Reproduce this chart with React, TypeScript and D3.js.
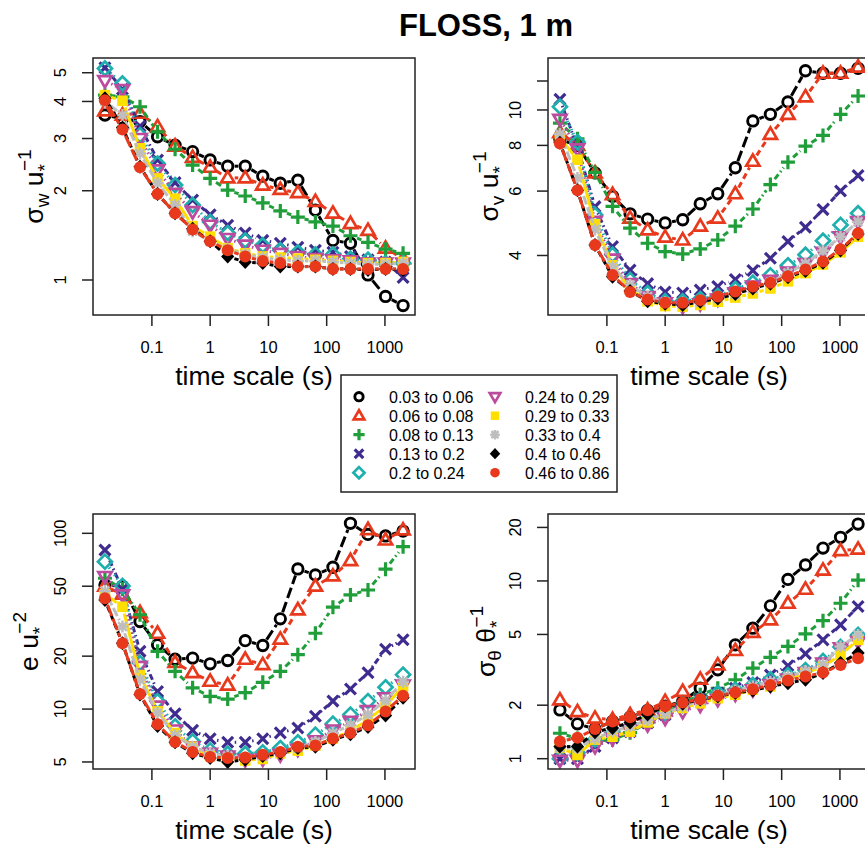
import React from 'react';
import * as d3 from 'd3';

// averaging time scales (s)
const timeScale = [0.015625, 0.03125, 0.0625, 0.125, 0.25, 0.5, 1, 2, 4, 8, 16, 32, 64, 128, 256, 512, 1024, 2048];
const xTicks = [0.1, 1, 10, 100, 1000];

const classes = [
  '0.03 to 0.06', '0.06 to 0.08', '0.08 to 0.13', '0.13 to 0.2', '0.2 to 0.24',
  '0.24 to 0.29', '0.29 to 0.33', '0.33 to 0.4', '0.4 to 0.46', '0.46 to 0.86',
];

const sigmaW = [
  [3.6, 3.5, 3.42, 3.04, 2.85, 2.71, 2.54, 2.42, 2.42, 2.24, 2.12, 2.17, 1.72, 1.36, 1.33, 1.04, 0.88, 0.82],
  [3.72, 3.6, 3.65, 3.29, 2.83, 2.59, 2.4, 2.21, 2.21, 2.09, 2.02, 1.97, 1.84, 1.68, 1.55, 1.47, 1.28, 1.18],
  [4.2, 4.15, 3.84, 3.16, 2.76, 2.44, 2.2, 2.01, 1.92, 1.82, 1.71, 1.63, 1.57, 1.52, 1.41, 1.34, 1.27, 1.23],
  [5.2, 4.4, 3.3, 2.54, 2.13, 1.86, 1.66, 1.53, 1.44, 1.36, 1.33, 1.29, 1.26, 1.24, 1.2, 1.17, 1.15, 1.02],
  [5.17, 4.6, 3.08, 2.47, 2.09, 1.79, 1.57, 1.44, 1.36, 1.31, 1.26, 1.24, 1.22, 1.22, 1.18, 1.17, 1.14, 1.14],
  [4.7, 4.39, 3.0, 2.35, 1.96, 1.7, 1.53, 1.38, 1.31, 1.26, 1.23, 1.2, 1.18, 1.17, 1.16, 1.14, 1.14, 1.14],
  [4.2, 4.02, 2.78, 2.2, 1.88, 1.52, 1.4, 1.28, 1.23, 1.2, 1.19, 1.18, 1.17, 1.16, 1.15, 1.14, 1.14, 1.15],
  [4.0, 3.6, 2.67, 2.12, 1.79, 1.46, 1.35, 1.27, 1.22, 1.19, 1.17, 1.16, 1.16, 1.15, 1.14, 1.13, 1.13, 1.14],
  [4.1, 3.27, 2.41, 1.95, 1.68, 1.49, 1.35, 1.2, 1.15, 1.14, 1.11, 1.11, 1.11, 1.09, 1.09, 1.08, 1.09, 1.08],
  [4.04, 3.22, 2.4, 1.95, 1.68, 1.48, 1.35, 1.26, 1.2, 1.16, 1.14, 1.11, 1.11, 1.09, 1.09, 1.09, 1.09, 1.09],
];

const sigmaV = [
  [8.3, 8.0, 6.73, 5.81, 5.2, 5.03, 4.91, 5.01, 5.54, 5.9, 6.95, 9.33, 9.73, 10.52, 12.8, 12.6, 12.6, 13.0],
  [8.67, 8.0, 6.73, 5.87, 5.06, 4.7, 4.49, 4.41, 4.81, 5.06, 5.9, 7.24, 8.58, 9.73, 10.86, 12.6, 12.6, 13.1],
  [9.2, 8.34, 6.75, 5.45, 4.75, 4.32, 4.1, 4.04, 4.17, 4.41, 4.81, 5.36, 6.25, 7.2, 7.96, 8.52, 9.73, 10.92],
  [10.7, 7.9, 5.44, 4.23, 3.65, 3.35, 3.18, 3.16, 3.22, 3.29, 3.44, 3.64, 3.93, 4.37, 4.78, 5.34, 6.0, 6.62],
  [10.21, 8.17, 5.17, 4.02, 3.43, 3.16, 3.0, 3.0, 3.04, 3.1, 3.24, 3.37, 3.53, 3.76, 4.02, 4.39, 4.85, 5.22],
  [9.43, 7.83, 4.96, 3.91, 3.35, 3.09, 2.97, 2.9, 2.95, 3.04, 3.16, 3.3, 3.42, 3.6, 3.8, 4.08, 4.5, 4.95],
  [8.4, 7.31, 4.87, 3.76, 3.24, 3.0, 2.91, 2.9, 2.93, 2.99, 3.07, 3.15, 3.25, 3.4, 3.58, 3.78, 4.08, 4.5],
  [8.6, 6.52, 4.71, 3.73, 3.32, 3.09, 2.98, 2.95, 2.98, 3.05, 3.13, 3.25, 3.38, 3.58, 3.8, 4.12, 4.5, 4.95],
  [8.13, 6.03, 4.27, 3.5, 3.2, 3.0, 2.95, 2.93, 2.99, 3.05, 3.14, 3.25, 3.35, 3.49, 3.63, 3.82, 4.13, 4.58],
  [8.1, 6.03, 4.27, 3.54, 3.18, 3.03, 2.97, 2.97, 3.02, 3.09, 3.19, 3.29, 3.37, 3.51, 3.66, 3.85, 4.16, 4.6],
];

const tke = [
  [50.9, 50, 31.5, 23.2, 19.2, 19.5, 18.1, 18.9, 24.5, 23.0, 32.6, 62.7, 58.0, 64.1, 114, 98.6, 96.6, 103],
  [50, 45, 35.4, 27.0, 18.4, 16.1, 14.4, 13.7, 19.2, 17.9, 25.0, 36.7, 50.1, 57.2, 70, 105, 91.6, 104.5],
  [55.5, 48, 34.4, 21.3, 16.4, 13.2, 11.8, 11.4, 12.4, 14.2, 16.4, 20.4, 27.0, 38.0, 44.6, 47.6, 62.5, 84],
  [80.4, 48, 21.3, 12.6, 9.4, 7.57, 6.77, 6.47, 6.47, 6.77, 7.32, 7.8, 9.1, 11.1, 13.0, 16.1, 21.9, 24.8],
  [69, 50.2, 18.3, 11.1, 7.98, 6.55, 5.82, 5.57, 5.57, 5.67, 6.0, 6.47, 7.15, 8.26, 9.3, 11.1, 13.3, 15.7],
  [56.8, 44.6, 17.5, 10.4, 7.6, 6.1, 5.6, 5.4, 5.15, 5.2, 5.5, 5.9, 6.6, 7.6, 8.5, 9.8, 11.6, 13.7],
  [45, 38.2, 15.6, 9.7, 7.3, 6.1, 5.4, 5.2, 5.1, 5.2, 5.6, 5.8, 6.2, 6.8, 7.5, 8.7, 10.4, 13.5],
  [47, 29.5, 14.7, 9.5, 7.1, 6.1, 5.6, 5.4, 5.3, 5.4, 5.7, 6.0, 6.5, 7.3, 8.1, 9.3, 11.2, 14.3],
  [41.8, 23.7, 12.1, 8.0, 6.47, 5.6, 5.27, 5.0, 5.15, 5.4, 5.6, 6.0, 6.1, 6.7, 7.2, 7.9, 9.2, 11.6],
  [42.7, 23.7, 12.2, 8.2, 6.5, 5.7, 5.33, 5.27, 5.3, 5.5, 5.7, 6.1, 6.2, 6.8, 7.3, 8.1, 9.7, 11.9],
];

const sigmaT = [
  [1.88, 1.57, 1.47, 1.62, 1.71, 1.87, 1.97, 2.1, 2.49, 3.16, 4.37, 5.42, 7.24, 10.2, 12.3, 15.3, 17.6, 20.9],
  [2.14, 1.84, 1.69, 1.66, 1.77, 1.88, 2.1, 2.39, 2.8, 3.37, 4.06, 5.13, 6.04, 7.49, 8.98, 11.5, 14.8, 15.1],
  [1.39, 1.3, 1.25, 1.28, 1.4, 1.6, 1.8, 2.05, 2.29, 2.49, 2.78, 3.23, 3.72, 4.28, 5.04, 5.98, 7.49, 10.1],
  [1.0, 1.0, 1.17, 1.31, 1.42, 1.59, 1.77, 1.97, 2.15, 2.34, 2.49, 2.68, 2.96, 3.33, 3.89, 4.66, 5.66, 7.18],
  [1.0, 1.08, 1.28, 1.39, 1.52, 1.66, 1.8, 2.0, 2.15, 2.34, 2.44, 2.6, 2.8, 2.95, 3.15, 3.55, 4.25, 4.97],
  [0.98, 0.98, 1.17, 1.3, 1.45, 1.55, 1.69, 1.84, 2.0, 2.15, 2.3, 2.44, 2.6, 2.8, 3.05, 3.45, 4.2, 4.56],
  [1.15, 1.05, 1.28, 1.33, 1.42, 1.6, 1.8, 1.93, 2.05, 2.19, 2.29, 2.44, 2.55, 2.78, 3.03, 3.3, 3.84, 4.66],
  [1.15, 1.15, 1.3, 1.42, 1.52, 1.65, 1.8, 1.97, 2.12, 2.28, 2.42, 2.56, 2.72, 2.9, 3.1, 3.4, 4.28, 4.97],
  [1.17, 1.17, 1.41, 1.49, 1.6, 1.77, 1.97, 2.04, 2.15, 2.24, 2.34, 2.42, 2.55, 2.66, 2.78, 3.03, 3.45, 3.93],
  [1.25, 1.31, 1.47, 1.62, 1.71, 1.87, 1.97, 2.07, 2.16, 2.26, 2.36, 2.46, 2.6, 2.75, 2.9, 3.05, 3.37, 3.67],
];

const colors = ['#000000', '#E8391D', '#1F9E3A', '#3F2C8E', '#1FAFAD', '#BC4A9E', '#FFDF00', '#BEBEBE', '#000000', '#E8391D'];
const shapes = ['circle', 'triangle', 'plus', 'cross', 'diamond', 'triangleDown', 'square', 'asterisk', 'diamondFill', 'dot'];
const dashes = ['11 4', '6 4', '6 3 1.5 3', '1.5 3 6 3', '1.5 3', '1.5 3', null, '9 3', '6 3', '12 3'];

const FONT = '"Liberation Sans", Arial, Helvetica, sans-serif';

function marker(shape: string, k = 1) {
  const p = d3.path();
  let filled = false;
  let sw = 2.9;
  if (shape === 'circle') {
    p.arc(0, 0, 5.2 * k, 0, 2 * Math.PI);
  } else if (shape === 'triangle' || shape === 'triangleDown') {
    const s = shape === 'triangle' ? 1 : -1;
    p.moveTo(0, -6.8 * k * s); p.lineTo(6.6 * k, 4.5 * k * s); p.lineTo(-6.6 * k, 4.5 * k * s); p.closePath();
    sw = 2.7;
  } else if (shape === 'plus') {
    p.moveTo(-7 * k, 0); p.lineTo(7 * k, 0); p.moveTo(0, -7 * k); p.lineTo(0, 7 * k);
    sw = 3.2;
  } else if (shape === 'cross') {
    p.moveTo(-5.4 * k, -5.4 * k); p.lineTo(5.4 * k, 5.4 * k); p.moveTo(-5.4 * k, 5.4 * k); p.lineTo(5.4 * k, -5.4 * k);
    sw = 3.2;
  } else if (shape === 'diamond') {
    p.moveTo(0, -7 * k); p.lineTo(7 * k, 0); p.lineTo(0, 7 * k); p.lineTo(-7 * k, 0); p.closePath();
    sw = 2.7;
  } else if (shape === 'square') {
    p.rect(-5.3 * k, -5.3 * k, 10.6 * k, 10.6 * k); filled = true;
  } else if (shape === 'asterisk') {
    p.moveTo(-6 * k, 0); p.lineTo(6 * k, 0); p.moveTo(0, -6 * k); p.lineTo(0, 6 * k);
    p.moveTo(-4.4 * k, -4.4 * k); p.lineTo(4.4 * k, 4.4 * k); p.moveTo(-4.4 * k, 4.4 * k); p.lineTo(4.4 * k, -4.4 * k);
    sw = 2.5;
  } else if (shape === 'diamondFill') {
    p.moveTo(0, -7 * k); p.lineTo(6.6 * k, 0); p.lineTo(0, 7 * k); p.lineTo(-6.6 * k, 0); p.closePath(); filled = true;
  } else {
    p.arc(0, 0, 6 * k, 0, 2 * Math.PI); filled = true;
  }
  return { d: p.toString(), filled, sw };
}

function Marker({ i, x, y, k = 1 }: { i: number; x: number; y: number; k?: number }) {
  const m = marker(shapes[i], k);
  return (
    <path d={m.d} transform={`translate(${x},${y})`}
      fill={m.filled ? colors[i] : 'none'} stroke={m.filled ? 'none' : colors[i]}
      strokeWidth={m.sw} strokeLinecap="butt" />
  );
}

type Part = { t: string; off: number; small?: boolean; back?: number };

const panels = [
  { data: sigmaW, x0: 93, x1: 415, y0: 58, y1: 315, yDomain: [0.762, 5.606], yTicks: [1, 2, 3, 4, 5], noLabel: [] as number[],
    labelX: 43, label: [{ t: 'σ', off: 0 }, { t: 'w', off: 6, small: true }, { t: ' u', off: 0 }, { t: '*', off: 8, small: true }, { t: '−1', off: -12, small: true, back: 7 }] as Part[] },
  { data: sigmaV, x0: 548, x1: 870, y0: 58, y1: 315, yDomain: [2.75, 13.87], yTicks: [4, 6, 8, 10, 12], noLabel: [12],
    labelX: 498, label: [{ t: 'σ', off: 0 }, { t: 'v', off: 6, small: true }, { t: ' u', off: 0 }, { t: '*', off: 8, small: true }, { t: '−1', off: -12, small: true, back: 7 }] as Part[] },
  { data: tke, x0: 93, x1: 415, y0: 514, y1: 769, yDomain: [4.56, 128.8], yTicks: [5, 10, 20, 50, 100], noLabel: [] as number[],
    labelX: 38, label: [{ t: 'e u', off: 0 }, { t: '*', off: 8, small: true }, { t: '−2', off: -12, small: true, back: 7 }] as Part[] },
  { data: sigmaT, x0: 548, x1: 870, y0: 514, y1: 769, yDomain: [0.875, 23.8], yTicks: [1, 2, 5, 10, 20], noLabel: [] as number[],
    labelX: 495, label: [{ t: 'σ', off: 0 }, { t: 'θ', off: 6, small: true }, { t: ' θ', off: 0 }, { t: '*', off: 8, small: true }, { t: '−1', off: -12, small: true, back: 7 }] as Part[] },
];

function Panel({ p }: { p: typeof panels[number] }) {
  const x = d3.scaleLog().domain([10 ** -2.011, 10 ** 3.516]).range([p.x0, p.x1]);
  const y = d3.scaleLog().domain(p.yDomain).range([p.y1, p.y0]);
  const gap = 7;
  let cur = 0;
  return (
    <g>
      {p.data.map((series, si) => {
        const pts = series.map((v, j) => [x(timeScale[j]), y(v)]);
        const segs = d3.pairs(pts).map(([a, b], j) => {
          const dx = b[0] - a[0], dy = b[1] - a[1];
          const len = Math.hypot(dx, dy);
          if (len <= 2 * gap) return null;
          const ux = dx / len, uy = dy / len;
          return <line key={j} x1={a[0] + ux * gap} y1={a[1] + uy * gap} x2={b[0] - ux * gap} y2={b[1] - uy * gap}
            stroke={colors[si]} strokeWidth={3} strokeDasharray={dashes[si] ?? undefined} />;
        });
        return (
          <g key={si}>
            {segs}
            {pts.map((q, j) => <Marker key={j} i={si} x={q[0]} y={q[1]} />)}
          </g>
        );
      })}
      <rect x={p.x0} y={p.y0} width={p.x1 - p.x0} height={p.y1 - p.y0} fill="none" stroke="#222" strokeWidth={1.5} />
      {xTicks.map(t => (
        <g key={t}>
          <line x1={x(t)} x2={x(t)} y1={p.y1} y2={p.y1 + 11} stroke="#222" strokeWidth={1.5} />
          <text x={x(t)} y={p.y1 + 38} textAnchor="middle" fontSize={16.5}>{t}</text>
        </g>
      ))}
      <text x={p.x0 + 161} y={p.y1 + 70} textAnchor="middle" fontSize={26.5}>time scale (s)</text>
      {p.yTicks.map(t => (
        <g key={t}>
          <line x1={p.x0 - 11} x2={p.x0} y1={y(t)} y2={y(t)} stroke="#222" strokeWidth={1.5} />
          {!p.noLabel.includes(t) && (
            <text transform={`translate(${p.x0 - 27},${y(t)}) rotate(-90)`} textAnchor="middle" fontSize={16.5}>{t}</text>
          )}
        </g>
      ))}
      <text transform={`translate(${p.labelX},${(p.y0 + p.y1) / 2}) rotate(-90)`} textAnchor="middle" fontSize={26.5}>
        {p.label.map((part, k) => {
          const dy = part.off - cur;
          cur = part.off;
          return (
            <tspan key={k} dy={dy} dx={part.back ? -part.back : undefined} fontSize={part.small ? 19 : 26.5}>{part.t}</tspan>
          );
        })}
      </text>
    </g>
  );
}

export default function App() {
  return (
    <svg width={865} height={844} style={{ position: 'absolute', left: 0, top: 0, background: '#fff' }}
      fontFamily={FONT} fill="#000">
      <text x={486} y={36} textAnchor="middle" fontSize={31} fontWeight="bold">FLOSS, 1 m</text>
      {panels.map((p, i) => <Panel key={i} p={p} />)}
      <g>
        <rect x={341} y={375} width={276} height={117} fill="#fff" stroke="#222" strokeWidth={1.5} />
        {classes.map((c, i) => {
          const col = Math.floor(i / 5), row = i % 5;
          const sx = col === 0 ? 359 : 495;
          const cy = 396.7 + row * 19;
          return (
            <g key={c}>
              <Marker i={i} x={sx} y={cy} k={0.8} />
              <text x={sx + 30} y={cy + 5.8} fontSize={16}>{c}</text>
            </g>
          );
        })}
      </g>
    </svg>
  );
}
